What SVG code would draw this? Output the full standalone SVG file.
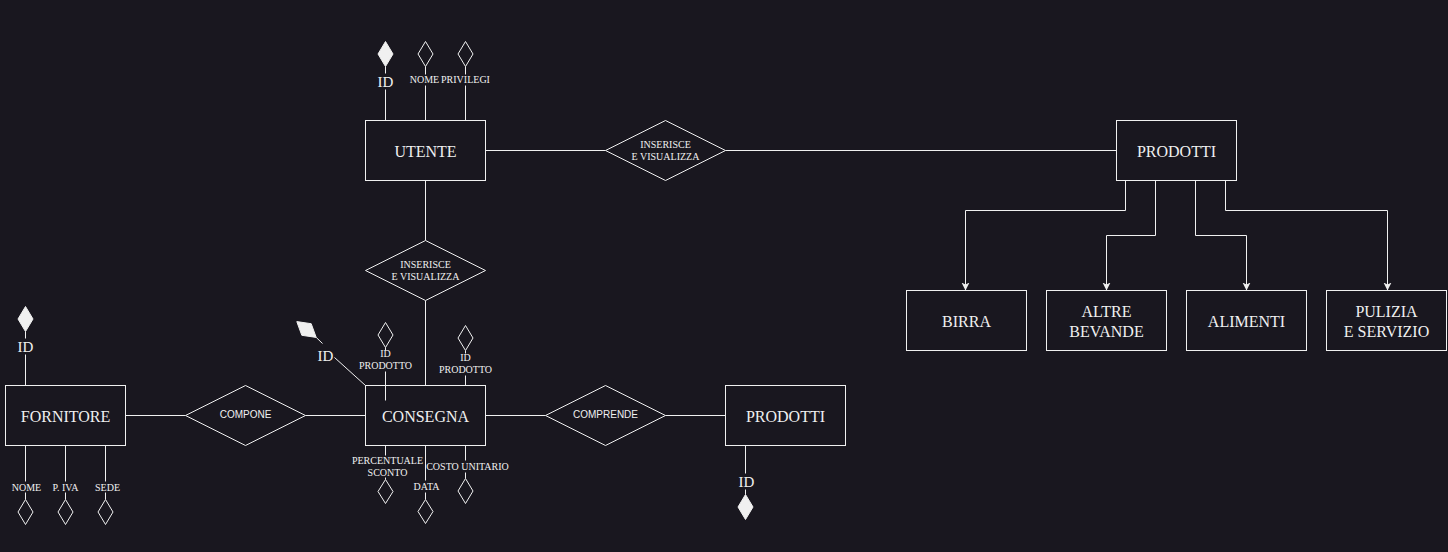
<svg xmlns="http://www.w3.org/2000/svg" width="1448" height="552" viewBox="0 0 1448 552">
<defs>
<style>
.bg{fill:#19171f}
.ent{fill:#19171f;stroke:#f0f0f0;stroke-width:1}
.rel{fill:#19171f;stroke:#f0f0f0;stroke-width:1}
.ln{stroke:#f0f0f0;stroke-width:1;fill:none}
.ah{fill:#19171f;stroke:#f0f0f0;stroke-width:1}
.ak{fill:#f0f0f0;stroke:#f0f0f0;stroke-width:1}
.t16{font-family:"Liberation Serif","Times New Roman",serif;font-size:16px;fill:#f0f0f0;text-anchor:middle}
.t15{font-family:"Liberation Serif","Times New Roman",serif;font-size:15px;fill:#f0f0f0;text-anchor:middle}
.t10{font-family:"Liberation Serif","Times New Roman",serif;font-size:10px;fill:#f0f0f0;text-anchor:middle}
.s10{font-family:"Liberation Sans",Arial,sans-serif;font-size:10px;fill:#f0f0f0;text-anchor:middle}
</style>
<marker id="arr" markerWidth="10" markerHeight="10" refX="8" refY="4" orient="auto" markerUnits="userSpaceOnUse">
<path d="M0,0 L8,4 L0,8 L2,4 z" fill="#f0f0f0"/>
</marker>
</defs>
<rect class="bg" x="0" y="0" width="1448" height="552"/>
<g transform="translate(0.5,0.5)">
<g id="connectors">
<line class="ln" x1="485" y1="150" x2="605" y2="150"/>
<line class="ln" x1="725" y1="150" x2="1116" y2="150"/>
<line class="ln" x1="425" y1="180" x2="425" y2="240"/>
<line class="ln" x1="425" y1="300" x2="425" y2="385"/>
<line class="ln" x1="125" y1="415" x2="185" y2="415"/>
<line class="ln" x1="305" y1="415" x2="365" y2="415"/>
<line class="ln" x1="485" y1="415" x2="545" y2="415"/>
<line class="ln" x1="665" y1="415" x2="725" y2="415"/>
<polyline class="ln" points="1125,180 1125,210 965,210 965,290" marker-end="url(#arr)"/>
<polyline class="ln" points="1155,180 1155,235 1106,235 1106,290" marker-end="url(#arr)"/>
<polyline class="ln" points="1195,180 1195,235 1246,235 1246,290" marker-end="url(#arr)"/>
<polyline class="ln" points="1225,180 1225,210 1387,210 1387,290" marker-end="url(#arr)"/>
</g>

<g id="utente">
<rect class="ent" x="365" y="120" width="120" height="60"/>
<text class="t16" x="425" y="156">UTENTE</text>
</g>
<g id="utente-attrs">
<polygon class="ak" points="385,41 392.5,53.5 385,66 377.5,53.5"/>
<line class="ln" x1="385" y1="66" x2="385" y2="73"/>
<text class="t15" x="385" y="86">ID</text>
<line class="ln" x1="385" y1="89" x2="385" y2="120"/>
<polygon class="ah" points="425,41 432.5,53.5 425,66 417.5,53.5"/>
<line class="ln" x1="425" y1="66" x2="425" y2="74"/>
<text class="t10" x="424" y="82.5">NOME</text>
<line class="ln" x1="425" y1="85" x2="425" y2="120"/>
<polygon class="ah" points="465,41 472.5,53.5 465,66 457.5,53.5"/>
<line class="ln" x1="465" y1="66" x2="465" y2="74"/>
<text class="t10" x="465" y="82.5">PRIVILEGI</text>
<line class="ln" x1="465" y1="85" x2="465" y2="120"/>
</g>

<g id="rel-inserisce-top">
<polygon class="rel" points="605,150 665,120 725,150 665,180"/>
<text class="t10" x="665" y="147.5">INSERISCE</text>
<text class="t10" x="665" y="159.5">E VISUALIZZA</text>
</g>

<g id="rel-inserisce-mid">
<polygon class="rel" points="365,270 425,240 485,270 425,300"/>
<text class="t10" x="425" y="267.5">INSERISCE</text>
<text class="t10" x="425" y="279.5">E VISUALIZZA</text>
</g>

<g id="prodotti-top">
<rect class="ent" x="1116" y="120" width="120" height="60"/>
<text class="t16" x="1176" y="156">PRODOTTI</text>
</g>
<g id="birra">
<rect class="ent" x="906" y="290" width="120" height="60"/>
<text class="t16" x="966" y="326">BIRRA</text>
</g>
<g id="altre-bevande">
<rect class="ent" x="1046" y="290" width="120" height="60"/>
<text class="t16" x="1106" y="316">ALTRE</text>
<text class="t16" x="1106" y="336">BEVANDE</text>
</g>
<g id="alimenti">
<rect class="ent" x="1186" y="290" width="120" height="60"/>
<text class="t16" x="1246" y="326">ALIMENTI</text>
</g>
<g id="pulizia">
<rect class="ent" x="1326" y="290" width="120" height="60"/>
<text class="t16" x="1386" y="316">PULIZIA</text>
<text class="t16" x="1386" y="336">E SERVIZIO</text>
</g>

<g id="fornitore">
<rect class="ent" x="5" y="385" width="120" height="60"/>
<text class="t16" x="65" y="421">FORNITORE</text>
</g>
<g id="fornitore-attrs">
<polygon class="ak" points="25,306 32.5,318.5 25,331 17.5,318.5"/>
<line class="ln" x1="25" y1="331" x2="25" y2="338"/>
<text class="t15" x="25" y="351">ID</text>
<line class="ln" x1="25" y1="354" x2="25" y2="385"/>
<line class="ln" x1="25" y1="445" x2="25" y2="481"/>
<text class="t10" x="26" y="490.5">NOME</text>
<line class="ln" x1="25" y1="492" x2="25" y2="499"/>
<polygon class="ah" points="25,499 32.5,511.5 25,524 17.5,511.5"/>
<line class="ln" x1="65" y1="445" x2="65" y2="481"/>
<text class="t10" x="65" y="490.5">P. IVA</text>
<line class="ln" x1="65" y1="492" x2="65" y2="499"/>
<polygon class="ah" points="65,499 72.5,511.5 65,524 57.5,511.5"/>
<line class="ln" x1="105" y1="445" x2="105" y2="481"/>
<text class="t10" x="107" y="490.5">SEDE</text>
<line class="ln" x1="105" y1="492" x2="105" y2="499"/>
<polygon class="ah" points="105,499 112.5,511.5 105,524 97.5,511.5"/>
</g>

<g id="rel-compone">
<polygon class="rel" points="185,415 245,385 305,415 245,445"/>
<text class="s10" x="245" y="417.5">COMPONE</text>
</g>

<g id="consegna">
<rect class="ent" x="365" y="385" width="120" height="60"/>
<text class="t16" x="425" y="421">CONSEGNA</text>
</g>
<g id="consegna-attrs">
<polygon class="ak" points="296.3,321.1 310.7,323.2 315.7,336.9 301.3,334.8"/>
<line class="ln" x1="315.7" y1="336.9" x2="322" y2="343"/>
<text class="t15" x="325" y="360">ID</text>
<line class="ln" x1="334" y1="357" x2="365" y2="385"/>
<polygon class="ah" points="385,322 392.5,334.5 385,347 377.5,334.5"/>
<line class="ln" x1="385" y1="347" x2="385" y2="350"/>
<text class="t10" x="385" y="356.5">ID</text>
<text class="t10" x="385" y="368.5">PRODOTTO</text>
<line class="ln" x1="385" y1="371" x2="385" y2="400"/>
<polygon class="ah" points="465,325 472.5,337.5 465,350 457.5,337.5"/>
<line class="ln" x1="465" y1="350" x2="465" y2="353"/>
<text class="t10" x="465" y="360.5">ID</text>
<text class="t10" x="465" y="372.5">PRODOTTO</text>
<line class="ln" x1="465" y1="375" x2="465" y2="385"/>
<line class="ln" x1="385" y1="445" x2="385" y2="455"/>
<text class="t10" x="387" y="463.5">PERCENTUALE</text>
<text class="t10" x="387" y="475.5">SCONTO</text>
<line class="ln" x1="385" y1="477" x2="385" y2="479"/>
<polygon class="ah" points="385,479 392.5,491 385,503 377.5,491"/>
<line class="ln" x1="425" y1="445" x2="425" y2="480"/>
<text class="t10" x="426" y="489.5">DATA</text>
<line class="ln" x1="425" y1="492" x2="425" y2="499"/>
<polygon class="ah" points="425,499 432.5,511 425,523 417.5,511"/>
<line class="ln" x1="465" y1="445" x2="465" y2="460"/>
<text class="t10" x="467" y="469.5">COSTO UNITARIO</text>
<line class="ln" x1="465" y1="472" x2="465" y2="478"/>
<polygon class="ah" points="465,478 472.5,490.5 465,503 457.5,490.5"/>
</g>

<g id="rel-comprende">
<polygon class="rel" points="545,415 605,385 665,415 605,445"/>
<text class="s10" x="605" y="417.5">COMPRENDE</text>
</g>

<g id="prodotti-bottom">
<rect class="ent" x="725" y="385" width="120" height="60"/>
<text class="t16" x="785" y="421">PRODOTTI</text>
</g>
<g id="prodotti-bottom-attrs">
<line class="ln" x1="745" y1="445" x2="745" y2="473"/>
<text class="t15" x="746" y="486">ID</text>
<line class="ln" x1="745" y1="489" x2="745" y2="494"/>
<polygon class="ak" points="745,494 752.5,506.5 745,519 737.5,506.5"/>
</g>
</g>
</svg>
